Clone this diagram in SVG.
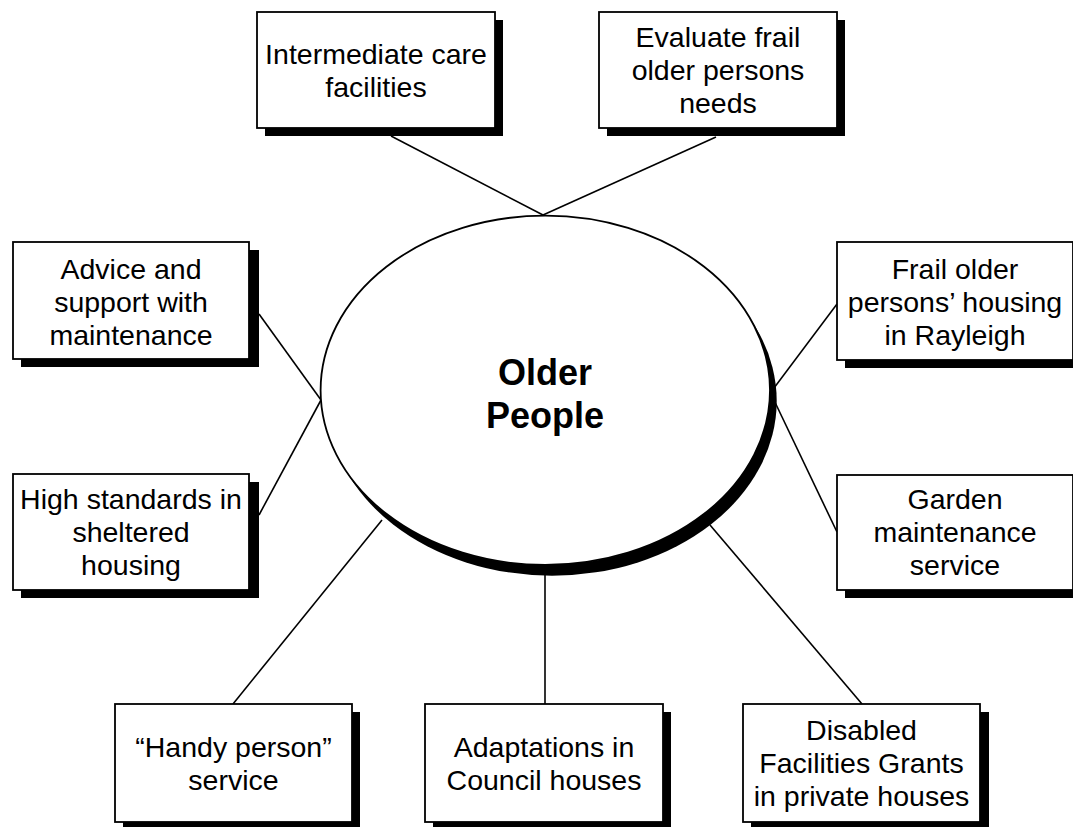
<svg xmlns="http://www.w3.org/2000/svg" width="1073" height="827" viewBox="0 0 1073 827">
<style>
.box{fill:#fff;stroke:#000;stroke-width:1.8}
.sh{fill:#000}
.t{font-family:"Liberation Sans",Arial,sans-serif;font-size:28.5px;fill:#000;text-anchor:middle}
.c{font-family:"Liberation Sans",Arial,sans-serif;font-size:36px;font-weight:bold;fill:#000;text-anchor:middle}
.ln{stroke:#000;stroke-width:1.6;fill:none}
</style>
<rect width="1073" height="827" fill="#fff"/>
<g id="connectors">
<line class="ln" x1="391" y1="136" x2="543" y2="215"/>
<line class="ln" x1="716" y1="137" x2="543" y2="215"/>
<line class="ln" x1="259" y1="314" x2="321" y2="400"/>
<line class="ln" x1="259" y1="515" x2="321" y2="400"/>
<line class="ln" x1="837" y1="304" x2="771" y2="392"/>
<line class="ln" x1="772" y1="396" x2="837" y2="532"/>
<line class="ln" x1="233" y1="704" x2="382" y2="520"/>
<line class="ln" x1="545" y1="570" x2="545" y2="704"/>
<line class="ln" x1="862" y1="704" x2="710" y2="525"/>
</g>
<g id="center">
<ellipse class="sh" cx="552" cy="401" rx="224.7" ry="174.7"/>
<ellipse cx="545.3" cy="390.3" rx="224.7" ry="174.7" fill="#fff" stroke="#000" stroke-width="1.8"/>
<text class="c" x="545" y="385">Older</text>
<text class="c" x="545" y="428">People</text>
</g>
<g id="n1">
<rect class="sh" x="265" y="20" width="238" height="116"/>
<rect class="box" x="257" y="12" width="238" height="116"/>
<text class="t" x="376" y="63.5">Intermediate care</text>
<text class="t" x="376" y="96.5">facilities</text>
</g>
<g id="n2">
<rect class="sh" x="607" y="20" width="238" height="116"/>
<rect class="box" x="599" y="12" width="238" height="116"/>
<text class="t" x="718" y="47">Evaluate frail</text>
<text class="t" x="718" y="80">older persons</text>
<text class="t" x="718" y="113">needs</text>
</g>
<g id="n3">
<rect class="sh" x="21" y="250" width="238" height="117"/>
<rect class="box" x="13" y="242" width="236" height="117"/>
<text class="t" x="131" y="279">Advice and</text>
<text class="t" x="131" y="312">support with</text>
<text class="t" x="131" y="345">maintenance</text>
</g>
<g id="n4">
<rect class="sh" x="21" y="482" width="238" height="116"/>
<rect class="box" x="13" y="474" width="236" height="116"/>
<text class="t" x="131" y="509">High standards in</text>
<text class="t" x="131" y="542">sheltered</text>
<text class="t" x="131" y="575">housing</text>
</g>
<g id="n5">
<rect class="sh" x="845" y="250" width="238" height="118"/>
<rect class="box" x="837" y="242" width="236" height="118"/>
<text class="t" x="955" y="279">Frail older</text>
<text class="t" x="955" y="312">persons’ housing</text>
<text class="t" x="955" y="345">in Rayleigh</text>
</g>
<g id="n6">
<rect class="sh" x="845" y="483" width="238" height="115"/>
<rect class="box" x="837" y="475" width="236" height="115"/>
<text class="t" x="955" y="509">Garden</text>
<text class="t" x="955" y="542">maintenance</text>
<text class="t" x="955" y="575">service</text>
</g>
<g id="n7">
<rect class="sh" x="123" y="712" width="237" height="118"/>
<rect class="box" x="115" y="704" width="237" height="118"/>
<text class="t" x="233.5" y="756.5">“Handy person”</text>
<text class="t" x="233.5" y="789.5">service</text>
</g>
<g id="n8">
<rect class="sh" x="433" y="712" width="238" height="118"/>
<rect class="box" x="425" y="704" width="238" height="118"/>
<text class="t" x="544" y="756.5">Adaptations in</text>
<text class="t" x="544" y="789.5">Council houses</text>
</g>
<g id="n9">
<rect class="sh" x="751" y="712" width="238" height="118"/>
<rect class="box" x="743" y="704" width="237" height="118"/>
<text class="t" x="861.5" y="740">Disabled</text>
<text class="t" x="861.5" y="773">Facilities Grants</text>
<text class="t" x="861.5" y="806">in private houses</text>
</g>
</svg>
